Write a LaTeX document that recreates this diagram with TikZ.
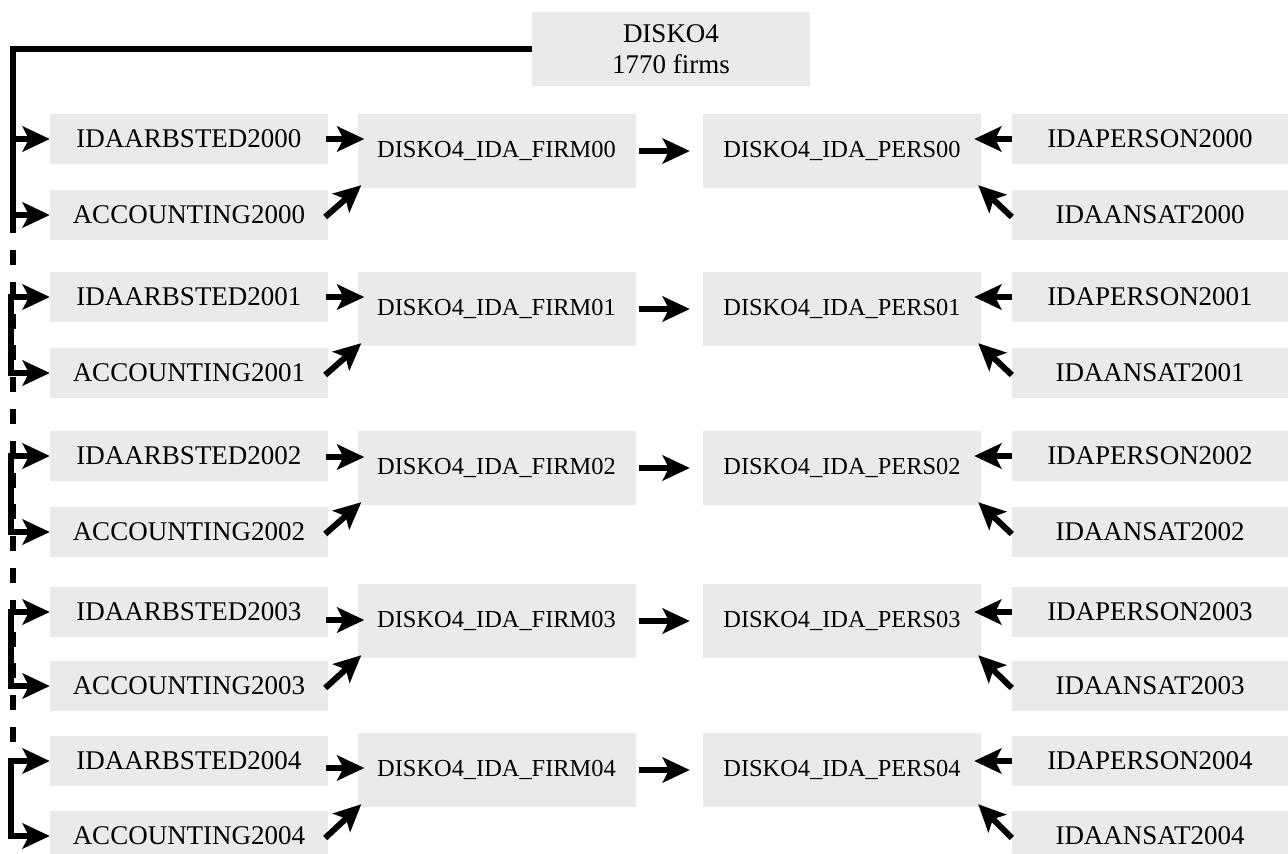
\documentclass[tikz,border=0pt]{standalone}
\usepackage{fontspec}
\setmainfont{Liberation Serif}
\usetikzlibrary{arrows.meta}
\definecolor{boxgray}{RGB}{234,234,234}
\tikzset{
  box/.style={fill=boxgray, inner sep=0pt, minimum width=278pt, minimum height=50pt,
    font=\fontsize{27}{31}\selectfont},
  bigbox/.style={box, minimum height=74pt, font=\fontsize{24.4}{28}\selectfont},
  rbox/.style={box, minimum width=276pt},
  tip/.tip={Stealth[length=27pt,width=25pt,inset=6pt]},
  arr/.style={line width=6pt, -tip},
  dblarr/.style={line width=6pt, tip-tip},
  spine/.style={line width=6pt},
}
\begin{document}
\begin{tikzpicture}[x=1pt,y=-1pt]
\useasboundingbox (0,0) rectangle (1288,854);
\node[box, minimum height=74pt, align=center] (disko) at (671,49) {DISKO4\\1770 firms};
\foreach \i/\A/\C/\F/\Y in {0/139/215/151/139, 1/297/373/309/297, 2/456/532/468/457, 3/612/686/621/620, 4/761/836/770/768} {
  \node[box] (arb\i) at (189,\A) {IDAARBSTED200\i};
  \node[box] (acc\i) at (189,\C) {ACCOUNTING200\i};
  \node[bigbox] (firm\i) at (496.5,\F) {DISKO4\_IDA\_FIRM0\i};
  \node[bigbox] (pers\i) at (842,\F) {DISKO4\_IDA\_PERS0\i};
  \node[rbox] (iper\i) at (1150,\A) {IDAPERSON200\i};
  \node[rbox] (ians\i) at (1150,\C) {IDAANSAT200\i};
  \draw[arr] ([xshift=-2pt]arb\i.east |- 0,\Y) -- ([xshift=7pt]firm\i.west |- 0,\Y);
  \draw[arr] ([xshift=-3pt,yshift=-2pt]acc\i.east) -- ([xshift=4pt,yshift=3pt]firm\i.south west);
  \draw[arr] ([xshift=3pt]firm\i.east) -- ([xshift=-13pt]pers\i.west);
  \draw[arr] (iper\i.west) -- ([xshift=-7pt]pers\i.east |- iper\i.west);
  \draw[arr] ([yshift=-2pt]ians\i.west) -- ([xshift=-3pt,yshift=3pt]pers\i.south east);
}
% left spine
\coordinate (top) at (13,49);
\coordinate (s1) at (13,233);
\draw[spine] (disko.west) -| (s1);
\draw[arr] (arb0.west -| top) -- (arb0.west);
\draw[arr] (acc0.west -| top) -- (acc0.west);
\coordinate (d0) at (13,250);
\coordinate (d1) at (13,760);
\draw[spine, dash pattern=on 15pt off 16.8pt] (d0) -- (d1);
\foreach \i/\C in {1/373, 2/532, 3/686, 4/836} {
  \coordinate (c\i) at (11,\C);
  \draw[dblarr] (arb\i.west) -| (c\i) -- (acc\i.west);
}
\end{tikzpicture}
\end{document}
